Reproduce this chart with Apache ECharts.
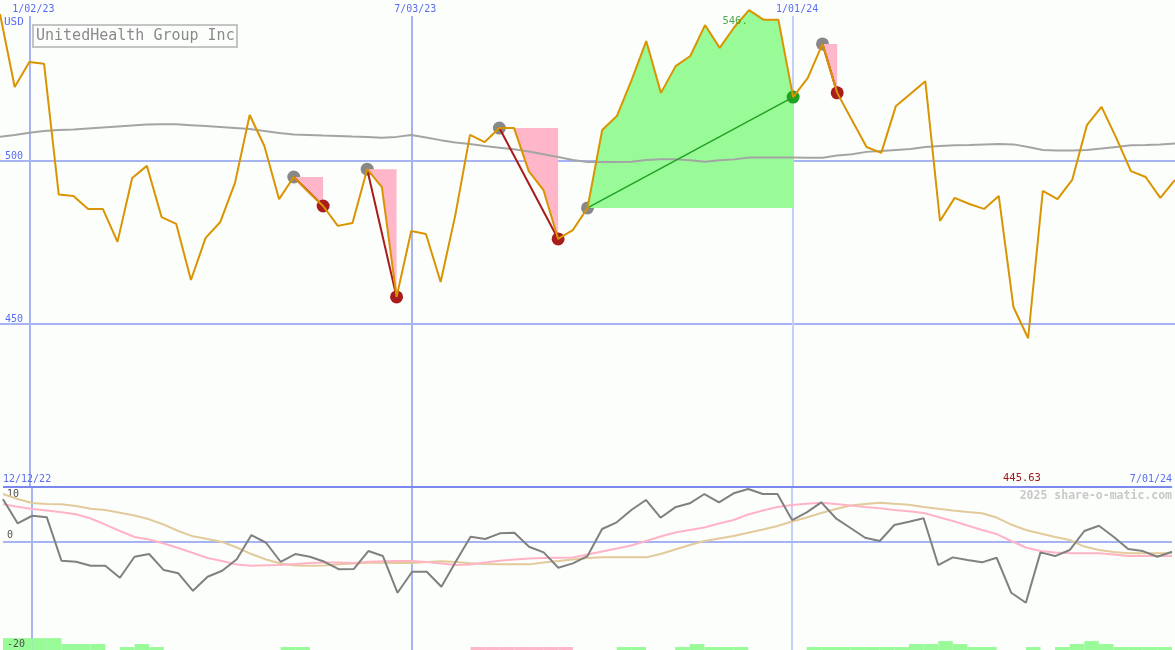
<!DOCTYPE html>
<html>
<head>
<meta charset="utf-8">
<script src="https://cdn.jsdelivr.net/npm/echarts@6/dist/echarts.min.js"></script>
<style>
html,body{margin:0;padding:0;background:#fcfefc;}
#chart{width:1175px;height:650px;}
</style>
</head>
<body>
<div id="chart"></div>
<script>
// ---- data ----
const dates = ['12/19/22','12/26/22','1/02/23','1/09/23','1/16/23','1/23/23','1/30/23','2/06/23','2/13/23','2/20/23',
 '2/27/23','3/06/23','3/13/23','3/20/23','3/27/23','4/03/23','4/10/23','4/17/23','4/24/23','5/01/23',
 '5/08/23','5/15/23','5/22/23','5/29/23','6/05/23','6/12/23','6/19/23','6/26/23','7/03/23','7/10/23',
 '7/17/23','7/24/23','7/31/23','8/07/23','8/14/23','8/21/23','8/28/23','9/04/23','9/11/23','9/18/23',
 '9/25/23','10/02/23','10/09/23','10/16/23','10/23/23','10/30/23','11/06/23','11/13/23','11/20/23','11/27/23',
 '12/04/23','12/11/23','12/18/23','12/25/23','1/01/24','1/08/24','1/15/24','1/22/24','1/29/24','2/05/24',
 '2/12/24','2/19/24','2/26/24','3/04/24','3/11/24','3/18/24','3/25/24','4/01/24','4/08/24','4/15/24',
 '4/22/24','4/29/24','5/06/24','5/13/24','5/20/24','5/27/24','6/03/24','6/10/24','6/17/24','6/24/24','7/01/24'];

const price = [545.1,522.7,530.4,529.8,489.7,489.3,485.3,485.3,475.2,494.8,
 498.5,482.8,480.7,463.5,476.4,481.3,493.3,514.1,504.6,488.3,
 495.1,490.5,486.2,480.1,481.0,497.5,492.0,458.3,478.5,477.6,
 462.9,483.4,508.0,505.8,510.1,510.1,496.9,491.1,476.1,478.8,
 485.6,509.5,513.8,524.8,536.8,520.9,529.1,532.2,541.7,534.7,
 541.1,546.3,543.3,543.3,519.6,525.5,535.9,520.9,512.6,504.3,
 502.5,516.9,520.6,524.5,481.6,488.7,486.8,485.3,489.3,455.2,
 445.63,490.8,488.3,494.2,511.0,516.6,507.1,496.9,495.1,488.7,494.2];

const movingAvg = [507.4,508.0,508.7,509.2,509.5,509.7,510.0,510.3,510.6,510.9,
 511.2,511.3,511.3,511.0,510.7,510.4,510.1,509.8,509.2,508.6,
 508.1,508.0,507.8,507.7,507.5,507.4,507.1,507.4,508.0,507.2,
 506.4,505.7,505.2,504.6,504.1,503.6,502.9,502.1,501.2,500.3,
 499.7,499.7,499.7,499.8,500.3,500.5,500.5,500.2,499.8,500.2,
 500.5,501.1,501.1,501.1,501.1,501.0,501.0,501.7,502.1,502.8,
 503.1,503.4,503.7,504.3,504.6,504.8,504.9,505.1,505.2,505.1,
 504.3,503.4,503.2,503.2,503.4,503.8,504.3,504.8,504.9,505.1,505.4];

const oscGray = [7.73,3.31,4.71,4.42,-3.57,-3.76,-4.49,-4.49,-6.70,-2.84,
 -2.34,-5.29,-5.89,-9.10,-6.52,-5.41,-3.31,1.16,-0.26,-3.76,
 -2.34,-2.84,-3.76,-5.16,-5.10,-1.79,-2.71,-9.47,-5.60,-5.60,
 -8.36,-3.68,0.85,0.42,1.47,1.58,-0.99,-2.03,-4.86,-4.05,
 -2.71,2.27,3.50,5.76,7.61,4.35,6.26,7.00,8.71,7.18,
 8.84,9.63,8.71,8.71,3.92,5.34,7.18,4.24,2.45,0.66,
 0.06,3.00,3.61,4.24,-4.36,-2.95,-3.44,-3.87,-3.02,-9.47,
 -11.31,-2.03,-2.71,-1.60,1.90,2.87,0.85,-1.42,-1.79,-2.84,-1.92];

const oscPink = [6.81,6.37,5.95,5.67,5.34,4.97,4.20,3.09,1.90,0.79,
 0.33,-0.41,-1.23,-2.15,-3.08,-3.63,-4.27,-4.49,-4.42,-4.36,
 -4.18,-4.00,-3.90,-3.90,-4.00,-3.76,-3.68,-3.63,-3.63,-3.81,
 -4.09,-4.36,-4.27,-3.90,-3.57,-3.35,-3.17,-3.08,-3.02,-2.98,
 -2.43,-1.88,-1.33,-0.77,0.06,0.88,1.62,2.08,2.54,3.28,
 3.92,4.94,5.67,6.32,6.69,6.91,7.11,6.87,6.59,6.32,
 6.08,5.76,5.52,5.21,4.48,3.74,2.91,2.08,1.34,0.06,
 -1.14,-1.79,-2.06,-2.21,-2.21,-2.21,-2.43,-2.71,-2.71,-2.71,-2.71];

const oscTan = [8.71,7.79,7.05,6.87,6.81,6.50,6.00,5.76,5.27,4.75,
 4.05,3.09,1.90,0.92,0.42,-0.13,-1.14,-2.34,-3.35,-4.09,
 -4.46,-4.49,-4.46,-4.24,-4.09,-3.94,-3.94,-4.00,-4.00,-3.81,
 -3.66,-3.81,-4.05,-4.18,-4.24,-4.24,-4.24,-3.90,-3.63,-3.35,
 -3.08,-2.95,-2.95,-2.95,-2.95,-2.34,-1.51,-0.68,0.06,0.52,
 0.98,1.58,2.17,2.82,3.65,4.38,5.21,5.95,6.59,6.87,
 7.11,6.92,6.74,6.32,6.00,5.67,5.40,5.16,4.38,3.09,
 2.08,1.44,0.79,0.24,-0.96,-1.60,-1.97,-2.21,-2.21,-2.21,-2.21];

// weekly signal strip (positive = green, negative = pink), one per week interval
const signalBars = [4,4,4,4,2,2,2,0,1,2,
 1,0,0,0,0,0,0,0,0,1,
 1,0,0,0,0,0,0,0,0,0,
 0,0,-1,-1,-1,-1,-1,-1,-1,0,
 0,0,1,1,0,0,1,2,1,1,
 1,0,0,0,0,1,1,1,1,1,
 1,1,2,2,3,2,1,1,0,0,
 1,0,1,2,3,2,1,1,1,1];

// trades: [entry index, exit index]
const trades = [[20,22],[25,27],[34,38],[40,54],[56,57]];

const gridDates = ['1/02/23','7/03/23','1/01/24'];
const startLabel = '12/12/22';
const companyName = 'UnitedHealth Group Inc';
const currency = 'USD';
const watermark = '2025 share-o-matic.com';

// ---- styles ----
const MONO = 'DejaVu Sans Mono';
const BLUE_TXT = '#5a6cf2';
const GRID_BLUE = '#a6b4f4';
const TOP_BLUE = '#7a88ee';
const GREEN_FILL = '#98fb98';
const PINK_FILL = '#ffb6c8';
const ORANGE = '#d99400';

const N = dates.length;
const showGridDate = (idx, val) => gridDates.indexOf(val) >= 0;
const mainMax = 544.48;
const maxPrice = Math.max.apply(null, price);
const minPrice = Math.min.apply(null, price);
const maxIdx = price.indexOf(maxPrice);

const chart = echarts.init(document.getElementById('chart'), null, {renderer: 'canvas'});

const series = [];

// entry dots (under fills)
series.push({
  type: 'scatter', xAxisIndex: 0, yAxisIndex: 0, z: 1, silent: true,
  symbolSize: 13, itemStyle: {color: '#888888', opacity: 1},
  data: price.map((v, i) => trades.some(t => t[0] === i) ? v : '-')
});

// fills between entry level and price path
trades.forEach(([a, b]) => {
  const entry = price[a];
  const gain = price[b] > entry;
  series.push({
    type: 'line', xAxisIndex: 0, yAxisIndex: 0, z: 2, silent: true, clip: false,
    symbol: 'none', lineStyle: {width: 0, opacity: 0},
    areaStyle: {origin: entry, color: gain ? GREEN_FILL : PINK_FILL, opacity: 1},
    data: price.map((v, i) => (i >= a && i <= b) ? v : '-')
  });
});

// moving average
series.push({
  type: 'line', xAxisIndex: 0, yAxisIndex: 0, z: 3, silent: true, clip: false,
  symbol: 'none', lineStyle: {color: '#a4a4a4', width: 2},
  data: movingAvg
});

// entry -> exit connector lines
trades.forEach(([a, b]) => {
  const gain = price[b] > price[a];
  series.push({
    type: 'line', xAxisIndex: 0, yAxisIndex: 0, z: 4, silent: true, clip: false,
    symbol: 'none', connectNulls: true,
    lineStyle: {color: gain ? '#22a022' : '#a81c1c', width: gain ? 1.5 : 2},
    data: price.map((v, i) => (i === a || i === b) ? v : '-')
  });
});

// exit dots
series.push({
  type: 'scatter', xAxisIndex: 0, yAxisIndex: 0, z: 5, silent: true,
  symbolSize: 13,
  data: price.map((v, i) => {
    const t = trades.find(tt => tt[1] === i);
    if (!t) return '-';
    return {value: v, itemStyle: {color: v > price[t[0]] ? '#22a022' : '#a81c1c', opacity: 1}};
  })
});

// price line
series.push({
  type: 'line', xAxisIndex: 0, yAxisIndex: 0, z: 6, silent: true, clip: false,
  symbol: 'none', lineStyle: {color: ORANGE, width: 2},
  data: price
});

// max-price label
series.push({
  type: 'scatter', xAxisIndex: 0, yAxisIndex: 0, z: 7, silent: true, clip: false,
  symbol: 'circle', symbolSize: 1, itemStyle: {color: 'rgba(0,0,0,0)'},
  data: price.map((v, i) => i === maxIdx ? v : '-'),
  label: {show: true, position: 'inside', offset: [-14, 11], color: '#229922',
    fontFamily: MONO, fontSize: 10.5, formatter: p => Math.floor(p.value) + '.'}
});

// lower panel oscillators
series.push({type: 'line', xAxisIndex: 1, yAxisIndex: 1, z: 4, silent: true, symbol: 'none',
  lineStyle: {color: '#e2ca9a', width: 2}, data: oscTan});
series.push({type: 'line', xAxisIndex: 1, yAxisIndex: 1, z: 5, silent: true, symbol: 'none',
  lineStyle: {color: '#ffb4c6', width: 2}, data: oscPink});
series.push({type: 'line', xAxisIndex: 1, yAxisIndex: 1, z: 6, silent: true, symbol: 'none',
  lineStyle: {color: '#808080', width: 2}, data: oscGray});

// signal strip
series.push({
  type: 'bar', xAxisIndex: 2, yAxisIndex: 2, z: 2, silent: true,
  barCategoryGap: '0%', barGap: '0%',
  data: signalBars.map(v => ({value: Math.abs(v), itemStyle: {color: v < 0 ? PINK_FILL : GREEN_FILL}}))
});

const option = {
  backgroundColor: '#fcfefc',
  animation: false,
  title: {
    text: companyName, left: 33, top: 25,
    padding: [3, 3, 3, 3], borderColor: '#c4c4c4', borderWidth: 2,
    backgroundColor: '#fcfefc',
    textStyle: {fontFamily: MONO, fontSize: 15, fontWeight: 'normal', color: '#8a8a8a', lineHeight: 16}
  },
  grid: [
    {left: 0, right: 0, top: 16, height: 471},
    {left: 0, right: 0, top: 487, height: 163}
  ],
  xAxis: [
    {
      type: 'category', gridIndex: 0, data: dates, boundaryGap: false, position: 'top',
      axisLine: {show: false}, axisTick: {show: false},
      axisLabel: {interval: showGridDate, color: BLUE_TXT, fontFamily: MONO, fontSize: 10, margin: 2,
        padding: [0, 0, 0, 8]},
      splitLine: {show: true, interval: showGridDate,
        lineStyle: {color: [GRID_BLUE, GRID_BLUE, '#c4cef8'], width: 2}}
    },
    {
      type: 'category', gridIndex: 1, data: dates, boundaryGap: false, position: 'top',
      axisLine: {show: false}, axisTick: {show: false},
      axisLabel: {interval: (idx) => idx === 0 || idx === N - 1, color: BLUE_TXT, fontFamily: MONO,
        fontSize: 10, margin: 3, alignMinLabel: 'left', alignMaxLabel: 'right',
        formatter: (val, idx) => idx === 0 ? startLabel : val},
      splitLine: {show: true, interval: showGridDate,
        lineStyle: {color: [GRID_BLUE, GRID_BLUE, '#c4cef8'], width: 2}}
    },
    {
      type: 'category', gridIndex: 1, data: dates.slice(0, N - 1), boundaryGap: true, show: false
    }
  ],
  yAxis: [
    {
      type: 'value', gridIndex: 0, min: 400, max: mainMax, interval: 50,
      name: currency, nameLocation: 'end', nameGap: -1,
      nameTextStyle: {color: BLUE_TXT, fontFamily: MONO, fontSize: 11, align: 'left', verticalAlign: 'top', padding: [0, 0, 0, 4]},
      axisLine: {show: false}, axisTick: {show: false},
      axisLabel: {inside: true, margin: 5, verticalAlign: 'bottom', color: BLUE_TXT, fontFamily: MONO, fontSize: 10,
        formatter: v => (v > 400 && v % 50 === 0) ? String(v) : ''},
      splitLine: {show: true, lineStyle: {color: ['rgba(0,0,0,0)', GRID_BLUE, GRID_BLUE, 'rgba(0,0,0,0)'], width: 2}}
    },
    {
      type: 'value', gridIndex: 1, min: -20, max: 10, interval: 10, z: 3,
      axisLine: {show: false}, axisTick: {show: false},
      axisLabel: {inside: true, margin: 4, verticalAlign: 'middle', color: '#505050', fontFamily: MONO, fontSize: 10,
        formatter: v => v === 10 ? '{t|10}' : (v === -10 ? '' : '{b|' + v + '}'),
        rich: {t: {padding: [14, 0, 0, 0], color: '#505050', fontFamily: MONO, fontSize: 10},
               b: {padding: [0, 0, 12, 0], color: '#505050', fontFamily: MONO, fontSize: 10}}},
      splitLine: {show: true, lineStyle: {color: ['rgba(0,0,0,0)', 'rgba(0,0,0,0)', GRID_BLUE, TOP_BLUE], width: 2}}
    },
    {
      type: 'value', gridIndex: 1, min: 0, max: 55, show: false, splitLine: {show: false}
    }
  ],
  graphic: [
    {type: 'text', left: 1003, top: 473, z: 10, silent: true,
      style: {text: minPrice.toFixed(2), fill: '#a01818', font: '10.5px ' + MONO}},
    {type: 'text', right: 3, top: 490, z: 10, silent: true,
      style: {text: watermark, fill: '#c8c8c8', font: 'bold 11.5px ' + MONO}}
  ],
  series: series
};

chart.setOption(option);
</script>
</body>
</html>
